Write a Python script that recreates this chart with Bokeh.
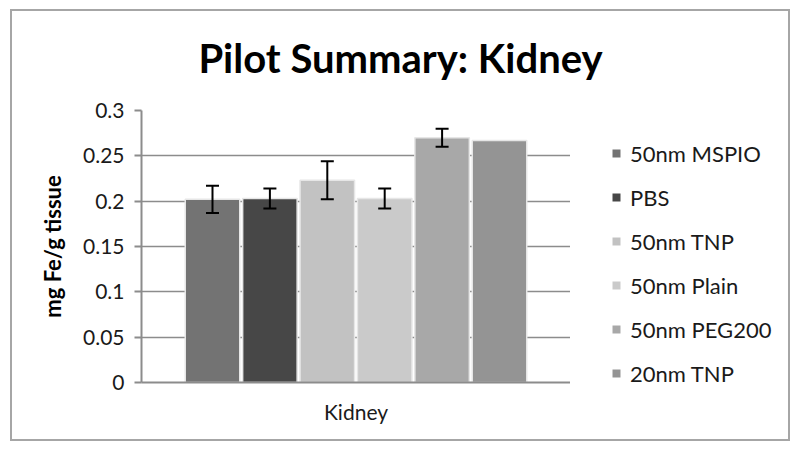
from bokeh.plotting import figure
from bokeh.layouts import column, row
from bokeh.models import (ColumnDataSource, FactorRange, Whisker, Legend, LegendItem,
                          FixedTicker, Range1d, Label)
from bokeh.transform import dodge
from bokeh.embed import file_html
from bokeh.resources import INLINE

# ---- data ----
title_text = "Pilot Summary: Kidney"
categories = ["Kidney"]
series = ["50nm MSPIO", "PBS", "50nm TNP", "50nm Plain", "50nm PEG200", "20nm TNP"]
values = [0.202, 0.203, 0.223, 0.203, 0.270, 0.267]
errors = [0.015, 0.011, 0.021, 0.011, 0.010, None]
colors = ["#737373", "#474747", "#c2c2c2", "#cacaca", "#a8a8a8", "#949494"]
y_ticks = [0, 0.05, 0.1, 0.15, 0.2, 0.25, 0.3]
y_tick_labels = ["0", "0.05", "0.1", "0.15", "0.2", "0.25", "0.3"]

FONT = "Lato"
pitch = 0.1338
bar_w = 0.127

# ---- title strip ----
tf = figure(width=776, height=84, output_backend="svg", toolbar_location=None,
            x_range=Range1d(0, 1), y_range=Range1d(0, 1),
            x_axis_location=None, y_axis_location=None, min_border=0)
tf.grid.visible = False
tf.outline_line_color = None
tf.add_layout(Label(x=388, y=38, x_units="screen", y_units="screen", text=title_text,
                    text_align="center", text_baseline="alphabetic", text_font=FONT,
                    text_font_size="40px", text_font_style="bold", text_color="black"))

# ---- main chart ----
p = figure(x_range=FactorRange(*categories, range_padding=0), y_range=Range1d(0, 0.3),
           frame_width=429, frame_height=272, output_backend="svg", toolbar_location=None,
           min_border_left=129, min_border_right=0, min_border_top=15, min_border_bottom=57)
p.outline_line_color = None

for i, (name, val, col) in enumerate(zip(series, values, colors)):
    off = (i - (len(series) - 1) / 2) * pitch
    src = ColumnDataSource(dict(x=categories, top=[val]))
    p.vbar(x=dodge("x", off, range=p.x_range), top="top", width=bar_w, source=src,
           fill_color=col, line_color="#e6e6e6", line_width=1.5)
    if errors[i] is not None:
        esrc = ColumnDataSource(dict(x=categories, upper=[val + errors[i]], lower=[val - errors[i]]))
        w = Whisker(base=dodge("x", off, range=p.x_range), upper="upper", lower="lower", source=esrc,
                    line_color="black", line_width=2, level="annotation")
        w.upper_head.size = 13
        w.lower_head.size = 13
        w.upper_head.line_width = 2
        w.lower_head.line_width = 2
        p.add_layout(w)

# y axis
p.yaxis.ticker = FixedTicker(ticks=y_ticks)
p.yaxis.major_label_overrides = {t: l for t, l in zip(y_ticks, y_tick_labels)}
p.yaxis.axis_label = "mg Fe/g tissue"
p.yaxis.axis_label_text_font = FONT
p.yaxis.axis_label_text_font_size = "22px"
p.yaxis.axis_label_text_font_style = "bold"
p.yaxis.axis_label_text_color = "black"
p.yaxis.axis_label_standoff = 14
p.yaxis.major_label_text_font = FONT
p.yaxis.major_label_text_font_size = "21px"
p.yaxis.major_label_text_color = "#1a1a1a"
p.yaxis.major_label_standoff = 10
p.yaxis.axis_line_color = "#8c8c8c"
p.yaxis.axis_line_width = 2
p.yaxis.major_tick_line_color = "#8c8c8c"
p.yaxis.major_tick_line_width = 2
p.yaxis.major_tick_out = 7
p.yaxis.major_tick_in = 0
p.yaxis.minor_tick_line_color = None

# x axis
p.xaxis.major_label_text_font = FONT
p.xaxis.major_label_text_font_size = "21px"
p.xaxis.major_label_text_color = "#1a1a1a"
p.xaxis.major_label_standoff = 10
p.xaxis.axis_line_color = "#8c8c8c"
p.xaxis.axis_line_width = 2
p.xaxis.major_tick_line_color = None

p.xgrid.grid_line_color = None
p.ygrid.grid_line_color = "#8c8c8c"
p.ygrid.grid_line_width = 1.5

# ---- legend strip (same series, its own figure so the legend is not clipped) ----
pl = figure(width=218, height=344, output_backend="svg", toolbar_location=None,
            x_range=FactorRange(*categories), y_range=Range1d(1, 2),
            x_axis_location=None, y_axis_location=None, min_border=0)
pl.grid.visible = False
pl.outline_line_color = None
leg_renderers = []
for name, val, col in zip(series, values, colors):
    src = ColumnDataSource(dict(x=categories, top=[val]))
    leg_renderers.append(pl.vbar(x="x", top="top", width=0, source=src,
                                 fill_color=col, line_color=None))

legend = Legend(items=[LegendItem(label=s, renderers=[r]) for s, r in zip(series, leg_renderers)],
                location=(41, -6), orientation="vertical",
                glyph_width=10, glyph_height=10, label_height=30, spacing=14,
                label_standoff=9, padding=0, margin=0,
                border_line_color=None, background_fill_alpha=0,
                label_text_font=FONT, label_text_font_size="22px", label_text_color="#1a1a1a")
pl.add_layout(legend)

layout = column(tf, row(p, pl),
                styles={"border": "2px solid #a6a6a6", "margin-left": "10px", "margin-top": "9px"})

open("out.html", "w").write(file_html(layout, INLINE))
